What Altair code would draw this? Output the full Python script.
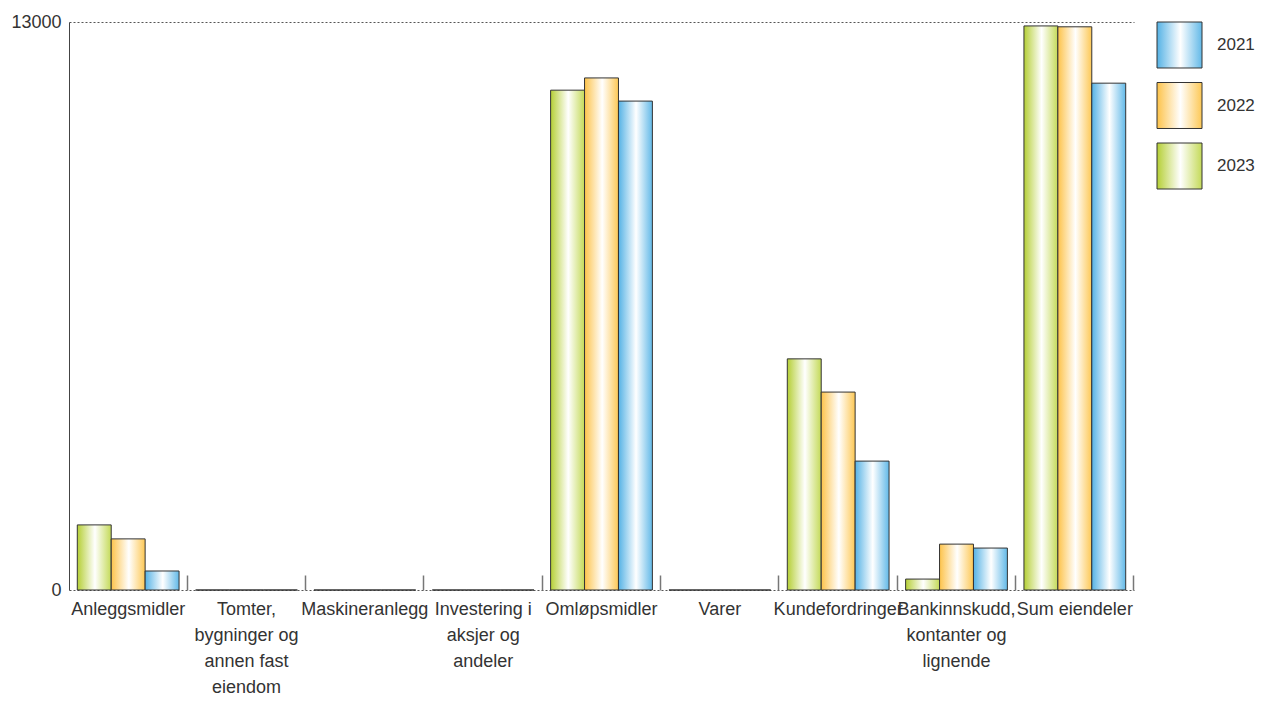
import altair as alt
import pandas as pd

categories = [
    "Anleggsmidler",
    "Tomter,|bygninger og|annen fast|eiendom",
    "Maskineranlegg",
    "Investering i|aksjer og|andeler",
    "Omløpsmidler",
    "Varer",
    "Kundefordringer",
    "Bankinnskudd,|kontanter og|lignende",
    "Sum eiendeler",
]
years = ["2023", "2022", "2021"]
legend_years = ["2021", "2022", "2023"]
v2023 = [1490, 0, 0, 0, 11440, 0, 5290, 250, 12910]
v2022 = [1170, 0, 0, 0, 11720, 0, 4530, 1050, 12890]
v2021 = [435, 0, 0, 0, 11190, 0, 2950, 960, 11600]

rows = []
for i, c in enumerate(categories):
    rows.append({"category": c, "year": "2023", "value": v2023[i]})
    rows.append({"category": c, "year": "2022", "value": v2022[i]})
    rows.append({"category": c, "year": "2021", "value": v2021[i]})
df = pd.DataFrame(rows)


def grad(left, right):
    return alt.Gradient(
        gradient="linear",
        x1=0, x2=1, y1=0, y2=0,
        stops=[
            alt.GradientStop(offset=0, color=left),
            alt.GradientStop(offset=0.52, color="#ffffff"),
            alt.GradientStop(offset=1, color=right),
        ],
    )


grads = {
    "2023": grad("#b5cf35", "#c4da58"),
    "2022": grad("#fdc34a", "#fdc855"),
    "2021": grad("#55b2e5", "#62b9e8"),
}

FONT = "Liberation Sans"
TXT = "#333333"
FS = 18

xscale = alt.Scale(paddingInner=0.14, paddingOuter=0.07)
yscale = alt.Scale(domain=[0, 13000], nice=False)
yaxis = alt.Axis(
    values=[0, 13000], format="d", grid=True, gridDash=[2, 2], gridColor="#555555",
    domainColor="#444444", ticks=False, labelPadding=8, title=None,
    labelFontSize=FS, labelFont=FONT, labelColor=TXT,
)

base = alt.Chart(df)
layers = []
for k, y in enumerate(years):
    xaxis = None
    if k == 0:
        xaxis = alt.Axis(
            title=None, labelAngle=0, ticks=False, domain=False, labelLimit=0,
            labelPadding=10, labelLineHeight=26, labelBaseline="top",
            labelFontSize=FS, labelFont=FONT, labelColor=TXT, orient="bottom",
            labelExpr="split(datum.label, '|')",
        )
    layers.append(
        base.transform_filter(alt.datum.year == y)
        .mark_bar(fill=grads[y], stroke="#333333", strokeWidth=1)
        .encode(
            x=alt.X("category:N", sort=categories, scale=xscale, axis=xaxis),
            xOffset=alt.XOffset("year:N", sort=years, scale=alt.Scale(domain=years, paddingInner=0, paddingOuter=0)),
            y=alt.Y("value:Q", scale=yscale, axis=yaxis),
        )
    )

sep = base.transform_filter(alt.datum.year == "2023").mark_point(opacity=0).encode(
    x=alt.X("category:N", sort=categories, scale=xscale,
            axis=alt.Axis(title=None, labels=False, domain=False, grid=False, orient="bottom",
                          ticks=True, bandPosition=1.08, tickSize=15, offset=-15,
                          tickColor="#777777", tickWidth=1.5)),
    y=alt.Y("value:Q", scale=yscale, axis=yaxis),
)

main = alt.layer(*layers, sep).resolve_axis(x="independent").properties(width=1065, height=568)

ldf = pd.DataFrame({"year": legend_years})
lbase = alt.Chart(ldf)
lscale = alt.Scale(domain=legend_years, paddingInner=0.24, paddingOuter=0)
llayers = []
for y in legend_years:
    llayers.append(
        lbase.transform_filter(alt.datum.year == y)
        .mark_rect(fill=grads[y], stroke="#333333", strokeWidth=1)
        .encode(
            y=alt.Y("year:N", sort=legend_years, scale=lscale, axis=None),
            x=alt.value(0), x2=alt.value(45),
        )
    )
ltext = lbase.mark_text(align="left", baseline="middle", fontSize=17, font=FONT, color=TXT).encode(
    y=alt.Y("year:N", sort=legend_years, scale=lscale, axis=None, bandPosition=0.5),
    x=alt.value(60),
    text="year:N",
)
legend = alt.layer(*llayers, ltext).properties(width=95, height=167)

chart = alt.hconcat(main, legend, spacing=22).configure(
    padding={"left": 2, "top": 5, "right": 0, "bottom": 0}
).configure_view(stroke=None)

chart.save("out.html", embed_options={"renderer": "svg", "actions": False})
